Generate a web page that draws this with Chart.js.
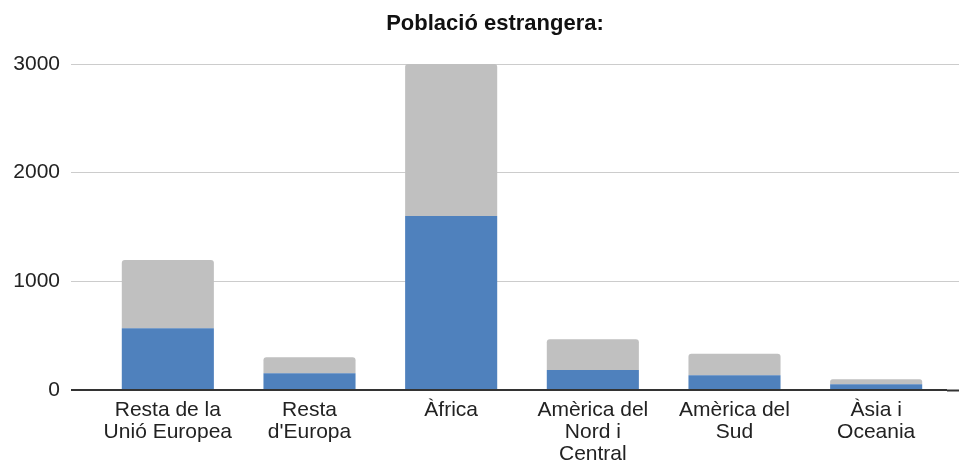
<!DOCTYPE html>
<html lang="ca">
<head>
    <meta charset="UTF-8">
    <title>Població estrangera</title>
    <script src="https://cdn.jsdelivr.net/npm/chart.js"></script>
    <style>
        html, body { margin: 0; padding: 0; background: #fff; }
        .wrap { position: relative; width: 959px; height: 462px; }
        .title {
            position: absolute; top: 12px; left: 495px; transform: translateX(-50%);
            font: bold 22px "Liberation Sans", Arial, sans-serif; line-height: 22px;
            color: #111; white-space: nowrap;
        }
    </style>
</head>
<body>
    <div class="wrap">
        <div class="title">Població estrangera:</div>
        <canvas id="chart" width="959" height="462"></canvas>
    </div>
    <script>
        // Dades
        const categories = [
            ['Resta de la', 'Unió Europea'],
            ['Resta', "d'Europa"],
            'Àfrica',
            ['Amèrica del', 'Nord i', 'Central'],
            ['Amèrica del', 'Sud'],
            ['Àsia i', 'Oceania']
        ];
        const seriesBlue = [568, 154, 1601, 184, 135, 52];
        const seriesGray = [628, 147, 1399, 282, 199, 46];
        const yTicks = [0, 1000, 2000, 3000];

        const font = { family: '"Liberation Sans", Arial, sans-serif', size: 21, lineHeight: 1.05 };
        const gridColor = c => c.tick && c.tick.value === 0 ? '#333' : '#cccccc';
        const gridWidth = c => c.tick && c.tick.value === 0 ? 2 : 1;

        new Chart(document.getElementById('chart'), {
            type: 'bar',
            data: {
                labels: categories,
                datasets: [
                    { label: 'A', data: seriesBlue, backgroundColor: '#4f81bd', borderWidth: 0 },
                    {
                        label: 'B', data: seriesGray, backgroundColor: '#c0c0c0', borderWidth: 0,
                        borderRadius: { topLeft: 3, topRight: 3, bottomLeft: 0, bottomRight: 0 },
                        borderSkipped: false
                    }
                ]
            },
            options: {
                responsive: false,
                animation: false,
                layout: { padding: { top: 64, left: 0, right: 0, bottom: 0 } },
                plugins: { legend: { display: false }, tooltip: { enabled: false }, title: { display: false } },
                datasets: { bar: { barPercentage: 0.65, categoryPercentage: 1 } },
                scales: {
                    x: {
                        stacked: true,
                        afterFit: s => { s.height = 72; },
                        grid: { display: false, drawTicks: false },
                        border: { display: false },
                        ticks: { color: '#222', font: font, padding: 9, maxRotation: 0, autoSkip: false }
                    },
                    y: {
                        stacked: true,
                        min: 0, max: 3000,
                        afterBuildTicks: s => { s.ticks = yTicks.map(v => ({ value: v })); },
                        afterFit: s => { s.width = 97; },
                        border: { display: false },
                        grid: { color: gridColor, lineWidth: gridWidth, tickLength: 26, tickColor: gridColor, tickWidth: gridWidth },
                        ticks: { color: '#222', font: font, padding: 11, callback: v => String(v) }
                    },
                    y2: {
                        position: 'right',
                        min: 0, max: 3000,
                        afterBuildTicks: s => { s.ticks = yTicks.map(v => ({ value: v })); },
                        afterFit: s => { s.width = 12; },
                        border: { display: false },
                        grid: { drawOnChartArea: false, tickLength: 12, tickColor: gridColor, tickWidth: gridWidth },
                        ticks: { display: false }
                    }
                }
            }
        });
    </script>
</body>
</html>
